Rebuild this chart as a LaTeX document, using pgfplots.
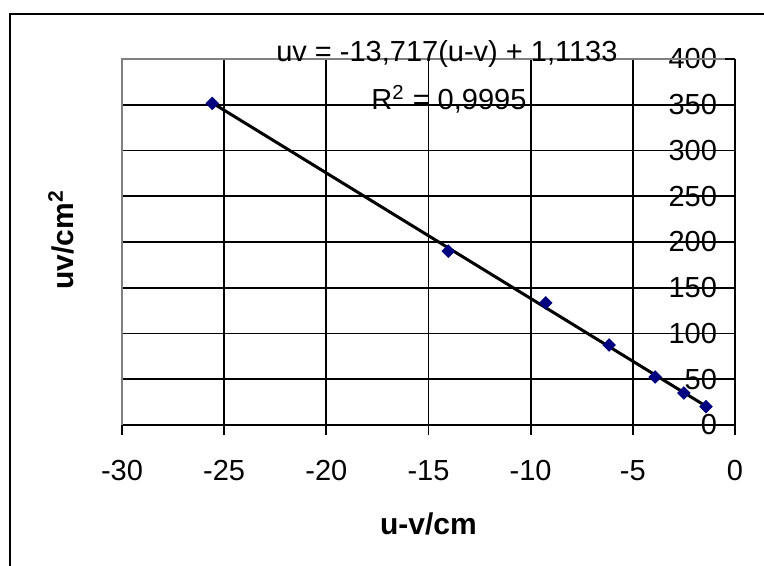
\documentclass[border=0pt]{standalone}
\usepackage{pgfplots}
\pgfplotsset{compat=1.18}
\usepackage{fontspec}
\setmainfont{Liberation Sans}
\definecolor{navymark}{RGB}{0,0,128}
\definecolor{borderGray}{RGB}{128,128,128}
\begin{document}
\begin{tikzpicture}
\useasboundingbox (0,0) rectangle (382pt,283pt);
\draw[line width=1pt] (5pt,-20pt) -- (5pt,276pt) -- (400pt,276pt);
\begin{axis}[
  at={(61pt,70.5pt)}, anchor=south west,
  scale only axis, width=306.5pt, height=183pt,
  xmin=-30, xmax=0, ymin=0, ymax=400,
  axis x line=bottom, axis y line=right,
  axis line style={-, black, line width=0.9pt},
  xtick={-30,-25,-20,-15,-10,-5,0},
  xticklabels={-30,-25,-20,-15,-10,-5,0},
  ytick={0,50,100,150,200,250,300,350,400},
  yticklabels={0,50,100,150,200,250,300,350,400},
  xtick align=outside, ytick align=inside,
  major tick length=5pt,
  tick style={black, line width=0.85pt},
  grid=major,
  major grid style={black, line width=0.85pt},
  ticklabel style={font=\fontsize{14.5}{16}\selectfont},
  xticklabel style={yshift=-9pt},
  yticklabel style={anchor=east, xshift=-5.5pt},
  every axis x label/.style={at={(axis description cs:0.5,-0.2705)}, anchor=center},
  every axis y label/.style={at={(axis description cs:-0.0995,0.5055)}, anchor=center, rotate=90},
  label style={font=\fontsize{15}{18}\selectfont\bfseries},
  xlabel={u-v/cm},
  ylabel={uv/cm\textsuperscript{2}},
  clip=false,
]
\draw[borderGray, line width=1pt] (rel axis cs:0,0) -- (rel axis cs:0,1) -- (rel axis cs:0.984,1);
\addplot[only marks, mark=square*, mark size=2.2pt, mark options={rotate=45, fill=navymark, draw=navymark}]
  coordinates {(-25.58,351.5) (-14.03,190) (-9.26,133.5) (-6.16,87.4) (-3.91,52.5) (-2.50,35) (-1.42,20)};
\addplot[black, line width=1.5pt, no marks] coordinates {(-25.58,351.98) (-1.42,20.59)};
\node[anchor=base, font=\fontsize{14.5}{17}\selectfont] at (rel axis cs:0.530,0.9918) {uv = -13,717(u-v) + 1,1133};
\node[anchor=base, font=\fontsize{14.5}{17}\selectfont] at (rel axis cs:0.5334,0.8607) {R\textsuperscript{2} = 0,9995};
\end{axis}
\end{tikzpicture}
\end{document}
